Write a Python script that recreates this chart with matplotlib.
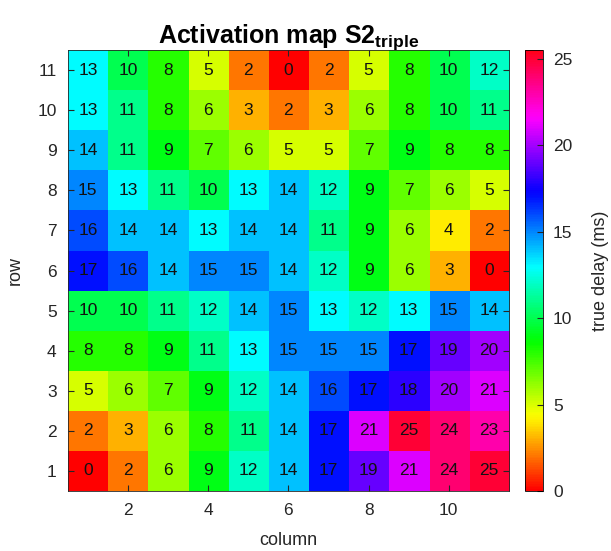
import numpy as np
import matplotlib.pyplot as plt

plt.rcParams['font.family'] = ['Liberation Sans', 'DejaVu Sans']
plt.rcParams['mathtext.fontset'] = 'custom'
plt.rcParams['mathtext.bf'] = 'Liberation Sans:bold'

# delay per electrode, row 1 first (bottom of grid)
rows = list(range(1, 12))
columns = list(range(1, 12))
delay_row_1 = [0, 2, 6, 9, 12, 14, 17, 19, 21, 24, 25]
delay_row_2 = [2, 3, 6, 8, 11, 14, 17, 21, 25, 24, 23]
delay_row_3 = [5, 6, 7, 9, 12, 14, 16, 17, 18, 20, 21]
delay_row_4 = [8, 8, 9, 11, 13, 15, 15, 15, 17, 19, 20]
delay_row_5 = [10, 10, 11, 12, 14, 15, 13, 12, 13, 15, 14]
delay_row_6 = [17, 16, 14, 15, 15, 14, 12, 9, 6, 3, 0]
delay_row_7 = [16, 14, 14, 13, 14, 14, 11, 9, 6, 4, 2]
delay_row_8 = [15, 13, 11, 10, 13, 14, 12, 9, 7, 6, 5]
delay_row_9 = [14, 11, 9, 7, 6, 5, 5, 7, 9, 8, 8]
delay_row_10 = [13, 11, 8, 6, 3, 2, 3, 6, 8, 10, 11]
delay_row_11 = [13, 10, 8, 5, 2, 0, 2, 5, 8, 10, 12]

delays = np.array([
    delay_row_1, delay_row_2, delay_row_3, delay_row_4, delay_row_5,
    delay_row_6, delay_row_7, delay_row_8, delay_row_9, delay_row_10,
    delay_row_11,
])

dark = '#262626'

fig = plt.figure(figsize=(6.11, 5.51), dpi=100)
ax = fig.add_axes([0.111, 0.109, 0.722, 0.800])
cax = fig.add_axes([0.859, 0.109, 0.03, 0.800])

im = ax.imshow(
    delays,
    cmap='hsv',
    vmin=0,
    vmax=25.5,
    origin='lower',
    aspect='auto',
    extent=[0.5, 11.5, 0.5, 11.5],
)

for i, r in enumerate(rows):
    for j, c in enumerate(columns):
        ax.text(c, r, str(delays[i, j]), ha='center', va='center',
                fontsize=12.5, color='#111111')

ax.set_xticks([2, 4, 6, 8, 10])
ax.set_yticks(rows)
ax.tick_params(direction='in', top=True, right=True, length=4,
               color=dark, labelsize=12.5, labelcolor=dark)
ax.tick_params(axis='x', pad=9)
ax.tick_params(axis='y', pad=8)
for s in ax.spines.values():
    s.set_color(dark)
    s.set_linewidth(0.6)

ax.set_xlabel('column', fontsize=13, color=dark, labelpad=10)
ax.set_ylabel('row', fontsize=13, color=dark, labelpad=10)
ax.set_title(r'Activation map S2$_{\mathbf{triple}}$', fontsize=18,
             fontweight='bold', pad=5)

cb = fig.colorbar(im, cax=cax, ticks=[0, 5, 10, 15, 20, 25])
cb.ax.tick_params(direction='in', length=4, color=dark, pad=7,
                  labelsize=12.5, labelcolor=dark)
cb.outline.set_linewidth(0.6)
cb.set_label('true delay (ms)', fontsize=13, color=dark, labelpad=14)

fig.savefig('out.png', dpi=100)
